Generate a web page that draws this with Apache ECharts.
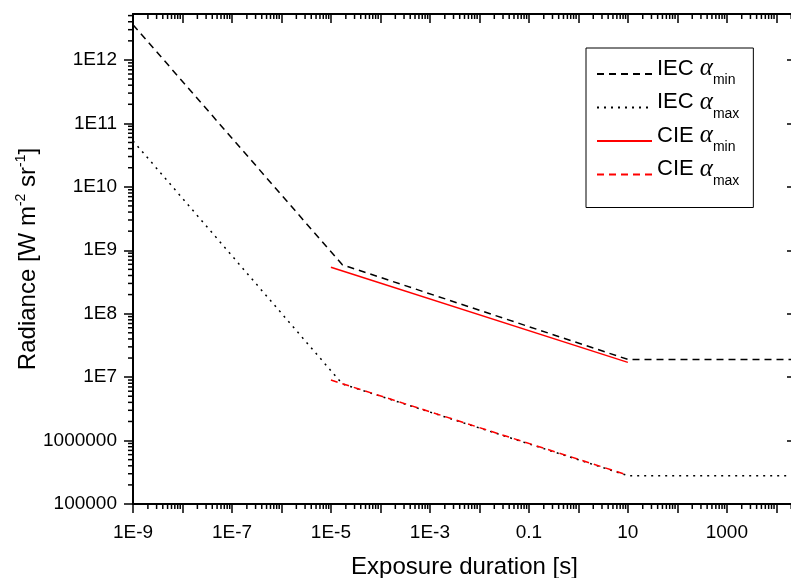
<!DOCTYPE html>
<html><head><meta charset="utf-8">
<script src="https://cdn.jsdelivr.net/npm/echarts@6/dist/echarts.min.js"></script>
<style>html,body{margin:0;padding:0;background:#fff}#c{width:791px;height:578px}</style>
</head><body><div id="c"></div>
<script>
// Axis ranges
const xMin = 1e-9, xMax = 2.5e4;
const yMin = 1e5, yMax = 5.3e12;
// Tick labels by decade exponent
const xTickLabels = {'-9':'1E-9','-7':'1E-7','-5':'1E-5','-3':'1E-3','-1':'0.1','1':'10','3':'1000'};
const yTickLabels = {'5':'100000','6':'1000000','7':'1E7','8':'1E8','9':'1E9','10':'1E10','11':'1E11','12':'1E12'};
const minorMultipliers = [2,3,4,5,6,7,8,9];

// Series data (exposure duration [s], radiance)
const iecMinX = [1e-9, 1.7e-5, 10, 2.5e4];
const iecMinY = [3.6e12, 5.9e8, 1.9e7, 1.9e7];
const iecMaxX = [1e-9, 1.7e-5, 10, 2.5e4];
const iecMaxY = [5.3e10, 7.8e6, 2.8e5, 2.8e5];
const cieMinX = [1e-5, 10];
const cieMinY = [5.4e8, 1.71e7];
const cieMaxX = [1e-5, 10];
const cieMaxY = [9.0e6, 2.85e5];

const seriesNames = ['IEC amin', 'IEC amax', 'CIE amin', 'CIE amax'];
const legendRich = {
  'IEC amin': '{t|IEC }{a|α}{s|min}',
  'IEC amax': '{t|IEC }{a|α}{s|max}',
  'CIE amin': '{t|CIE }{a|α}{s|min}',
  'CIE amax': '{t|CIE }{a|α}{s|max}'
};

const FONT = 'Liberation Sans';
const pairs = (xs, ys) => xs.map((x, i) => [x, ys[i]]);

// minor tick positions: [x, y, side]  side 0=bottom 1=top 2=left 3=right
const minorTicks = [];
for (let e = -9; e <= 4; e++) {
  minorMultipliers.forEach(m => {
    const v = m * Math.pow(10, e);
    if (v > xMin && v < xMax) {
      minorTicks.push([v, yMin, 0]);
      minorTicks.push([v, yMax, 1]);
    }
  });
}
for (let e = 5; e <= 12; e++) {
  minorMultipliers.forEach(m => {
    const v = m * Math.pow(10, e);
    if (v > yMin && v < yMax) {
      minorTicks.push([xMin, v, 2]);
      minorTicks.push([xMax, v, 3]);
    }
  });
}

const expOf = v => Math.round(Math.log10(v));
const axisLineStyle = {color: '#000', width: 2};

const chart = echarts.init(document.getElementById('c'), null, {renderer: 'canvas'});
chart.setOption({
  backgroundColor: '#fff',
  animation: false,
  grid: {left: 133, top: 14, right: -5, bottom: 74, containLabel: false, outerBoundsMode: 'none'},
  xAxis: [{
    type: 'log', min: xMin, max: xMax, interval: 1, position: 'bottom',
    name: 'Exposure duration [s]', nameLocation: 'middle', nameGap: 51, nameMoveOverlap: false,
    nameTextStyle: {fontFamily: FONT, fontSize: 24, color: '#000'},
    axisLine: {show: true, lineStyle: axisLineStyle},
    axisTick: {show: true, inside: false, length: 9, lineStyle: {color: '#000', width: 1.5}},
    axisLabel: {interval: 0, showMaxLabel: false, margin: 19, fontFamily: FONT, fontSize: 19, color: '#000',
      formatter: v => xTickLabels[String(expOf(v))] || ''},
    splitLine: {show: false}
  }, {
    type: 'log', min: xMin, max: xMax, interval: 1, position: 'top',
    axisLine: {show: true, lineStyle: axisLineStyle},
    axisTick: {show: true, inside: true, length: 9, lineStyle: {color: '#000', width: 1.5}},
    axisLabel: {show: false}, splitLine: {show: false}
  }],
  yAxis: [{
    type: 'log', min: yMin, max: yMax, interval: 1, position: 'left',
    name: '{t|Radiance [W m}{s|-2}{t| sr}{s|-1}{t|]}', nameLocation: 'middle', nameGap: 91, nameMoveOverlap: false,
    nameTextStyle: {color: '#000', rich: {
      t: {fontFamily: FONT, fontSize: 24, lineHeight: 28, color: '#000'},
      s: {fontFamily: FONT, fontSize: 14, lineHeight: 14, verticalAlign: 'top', color: '#000'}
    }},
    axisLine: {show: true, lineStyle: axisLineStyle},
    axisTick: {show: true, inside: false, length: 9, lineStyle: {color: '#000', width: 1.5}},
    axisLabel: {interval: 0, showMaxLabel: false, margin: 16, fontFamily: FONT, fontSize: 19, color: '#000',
      formatter: v => yTickLabels[String(expOf(v))] || ''},
    splitLine: {show: false}
  }, {
    type: 'log', min: yMin, max: yMax, interval: 1, position: 'right',
    axisLine: {show: true, lineStyle: axisLineStyle},
    axisTick: {show: true, inside: true, length: 9, lineStyle: {color: '#000', width: 1.5}},
    axisLabel: {show: false}, splitLine: {show: false}
  }],
  legend: {
    data: seriesNames, orient: 'vertical', left: 586, top: 48,
    padding: [8, 14, 15, 10], itemGap: -2.5, itemWidth: 55, itemHeight: 14,
    borderColor: '#000', borderWidth: 1, backgroundColor: '#fff', borderRadius: 0,
    itemStyle: {opacity: 0},
    formatter: n => legendRich[n],
    textStyle: {rich: {
      t: {fontFamily: FONT, fontSize: 22, lineHeight: 20, padding: [0, 0, 11, 0], color: '#000'},
      a: {fontFamily: 'Liberation Serif', fontStyle: 'italic', fontSize: 25, lineHeight: 20, padding: [0, 0, 11, 0], color: '#000'},
      s: {fontFamily: FONT, fontSize: 14, lineHeight: 14, padding: [15, 0, 2, 0], color: '#000'}
    }}
  },
  series: [
    {name: 'IEC amin', type: 'line', data: pairs(iecMinX, iecMinY), symbol: 'none',
     lineStyle: {color: '#000', width: 1.5, type: [7, 5]}, itemStyle: {color: '#000'}},
    {name: 'IEC amax', type: 'line', data: pairs(iecMaxX, iecMaxY), symbol: 'none',
     lineStyle: {color: '#000', width: 1.5, type: [2, 5]}, itemStyle: {color: '#000'}},
    {name: 'CIE amin', type: 'line', data: pairs(cieMinX, cieMinY), symbol: 'none',
     lineStyle: {color: '#ff0000', width: 1.5, type: 'solid'}, itemStyle: {color: '#ff0000'}},
    {name: 'CIE amax', type: 'line', data: pairs(cieMaxX, cieMaxY), symbol: 'none',
     lineStyle: {color: '#ff0000', width: 1.5, type: [7, 5]}, itemStyle: {color: '#ff0000'}},
    {name: 'minorTicks', type: 'custom', silent: true, clip: false,
     encode: {x: 0, y: 1},
     data: minorTicks,
     renderItem: (params, api) => {
       const p = api.coord([api.value(0), api.value(1)]);
       const side = api.value(2);
       const L = 5;
       let shape;
       if (side === 0 || side === 1) shape = {x1: p[0], y1: p[1], x2: p[0], y2: p[1] + L};
       else shape = {x1: p[0], y1: p[1], x2: p[0] - L, y2: p[1]};
       return {type: 'line', shape: shape, style: {stroke: '#000', lineWidth: 1.5}};
     }}
  ]
});
</script>
</body></html>
